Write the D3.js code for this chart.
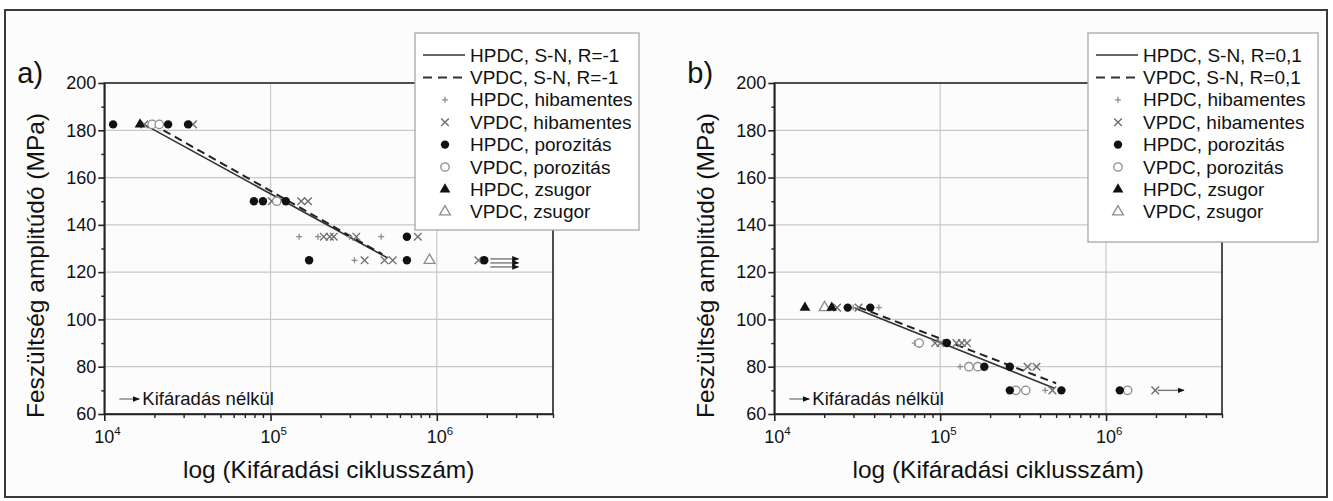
<!DOCTYPE html>
<html>
<head>
<meta charset="utf-8">
<script src="https://cdn.jsdelivr.net/npm/d3@7"></script>
<style>
body { margin: 0; background: #fff; }
svg text { font-family: "Liberation Sans", Arial, sans-serif; fill: #111; }
</style>
</head>
<body>
<div id="chart"></div>
<script>
// tick values
const yMajor = [60, 80, 100, 120, 140, 160, 180, 200];
const yMinor = [70, 90, 110, 130, 150, 170, 190];
const yGrid = [80, 100, 120, 140, 160, 180];
const xMajor = [1e4, 1e5, 1e6];
const xExp = ["4", "5", "6"];
const xMinor = [2e4, 3e4, 4e4, 5e4, 6e4, 7e4, 8e4, 9e4,
                2e5, 3e5, 4e5, 5e5, 6e5, 7e5, 8e5, 9e5,
                2e6, 3e6, 4e6, 5e6];

const legendA = ["HPDC, S-N, R=-1", "VPDC, S-N, R=-1", "HPDC, hibamentes", "VPDC, hibamentes",
                 "HPDC, porozitás", "VPDC, porozitás", "HPDC, zsugor", "VPDC, zsugor"];
const legendB = ["HPDC, S-N, R=0,1", "VPDC, S-N, R=0,1", "HPDC, hibamentes", "VPDC, hibamentes",
                 "HPDC, porozitás", "VPDC, porozitás", "HPDC, zsugor", "VPDC, zsugor"];
const legendKinds = ["solid", "dashed", "plus", "cross", "dot", "ring", "tri", "otri"];

// a) R=-1   [ciklusszám, MPa]
const aSnHpdc = [[17100, 182.7], [506000, 126]];
const aSnVpdc = [[19400, 182.7], [470000, 127.6]];
const aHpdcHiba = [[148600, 135], [193000, 135], [299000, 135], [463000, 135], [320000, 125]];
const aVpdcHiba = [[17400, 182.5], [34200, 182.5], [101800, 150], [153000, 150], [168000, 150],
                   [209000, 135], [227000, 135], [240000, 135], [328000, 135], [769000, 135],
                   [368000, 125], [485000, 125], [543000, 125], [1780000, 125]];
const aHpdcPor = [[11300, 182.5], [24200, 182.5], [31900, 182.5], [79400, 150], [90000, 150],
                  [123600, 150], [661000, 135], [170600, 125], [661000, 125], [1930000, 125]];
const aVpdcPor = [[19400, 182.5], [21400, 182.5], [109000, 150]];
const aHpdcZs = [[16400, 182.5]];
const aVpdcZs = [[904000, 125]];
const aRunout = [[2.1e6, 3.1e6, 125.6], [2.1e6, 3.1e6, 123.9], [2.1e6, 3.1e6, 122.2]];

// b) R=0,1
const bSnHpdc = [[30600, 104.7], [488000, 70.9]];
const bSnVpdc = [[32200, 105.2], [500000, 73]];
const bHpdcHiba = [[29900, 105], [42700, 105], [70300, 90], [131800, 80], [430000, 70]];
const bVpdcHiba = [[23900, 105], [32200, 105], [93100, 90], [100400, 90], [125300, 90],
                   [135000, 90], [145200, 90], [336600, 80], [380800, 80], [475000, 70], [1980000, 70]];
const bHpdcPor = [[27700, 105], [37900, 105], [109700, 90], [184500, 80], [263000, 80],
                  [263000, 70], [538000, 70], [1210000, 70]];
const bVpdcPor = [[74700, 90], [149000, 80], [168600, 80], [286000, 70], [328000, 70], [1350000, 70]];
const bHpdcZs = [[15300, 105], [22200, 105]];
const bVpdcZs = [[20100, 105]];
const bRunout = [[2.05e6, 2.95e6, 70]];

const W = 1333, H = 501;
const plotTop = 83, plotBottom = 414;

const svg = d3.select("#chart").append("svg")
    .attr("width", W).attr("height", H);

const defs = svg.append("defs");
defs.append("marker")
    .attr("id", "head")
    .attr("viewBox", "0 0 10 10")
    .attr("refX", 9).attr("refY", 5)
    .attr("markerWidth", 7).attr("markerHeight", 7)
    .attr("markerUnits", "userSpaceOnUse")
    .attr("orient", "auto")
    .append("path").attr("d", "M0,1L10,5L0,9Z").attr("fill", "#111");

// frame
svg.append("rect")
    .attr("x", 5).attr("y", 10).attr("width", 1322).attr("height", 487)
    .attr("fill", "#fcfcfc").attr("stroke", "#3a3a3a").attr("stroke-width", 2);

function drawMark(g, kind, x, y) {
    const m = g.append("g").attr("transform", `translate(${x},${y})`);
    if (kind === "plus") {
        m.append("path").attr("d", "M-3,0H3M0,-3V3")
            .attr("stroke", "#8c8c8c").attr("stroke-width", 1.3).attr("fill", "none");
    } else if (kind === "cross") {
        m.append("path").attr("d", "M-3.8,-3.8L3.8,3.8M-3.8,3.8L3.8,-3.8")
            .attr("stroke", "#6e6e6e").attr("stroke-width", 1.4).attr("fill", "none");
    } else if (kind === "dot") {
        m.append("circle").attr("r", 4.2).attr("fill", "#111");
    } else if (kind === "ring") {
        m.append("circle").attr("r", 4.2).attr("fill", "#fff")
            .attr("stroke", "#8c8c8c").attr("stroke-width", 1.3);
    } else if (kind === "tri") {
        m.append("path").attr("d", d3.symbol(d3.symbolTriangle, 50)).attr("fill", "#111");
    } else if (kind === "otri") {
        m.append("path").attr("d", d3.symbol(d3.symbolTriangle, 50)).attr("fill", "#fff")
            .attr("stroke", "#8c8c8c").attr("stroke-width", 1.3);
    }
}

function drawPanel(p) {
    const x = d3.scaleLog().domain([1e4, 5e6]).range([p.left, p.right]);
    const y = d3.scaleLinear().domain([60, 200]).range([plotBottom, plotTop]);
    const g = svg.append("g");

    // grid
    g.append("g").selectAll("line").data(yGrid).join("line")
        .attr("x1", p.left).attr("x2", p.right)
        .attr("y1", d => y(d)).attr("y2", d => y(d))
        .attr("stroke", "#c9c9c9").attr("stroke-width", 1.2);
    g.append("g").selectAll("line").data([1e5, 1e6]).join("line")
        .attr("x1", d => x(d)).attr("x2", d => x(d))
        .attr("y1", plotTop).attr("y2", plotBottom)
        .attr("stroke", "#c9c9c9").attr("stroke-width", 1.2);

    // box
    g.append("rect")
        .attr("x", p.left).attr("y", plotTop)
        .attr("width", p.right - p.left).attr("height", plotBottom - plotTop)
        .attr("fill", "none").attr("stroke", "#222").attr("stroke-width", 1.6);

    // S-N lines
    const line = d3.line().x(d => x(d[0])).y(d => y(d[1]));
    g.append("path").datum(p.snH).attr("d", line)
        .attr("fill", "none").attr("stroke", "#333").attr("stroke-width", 1.6);
    g.append("path").datum(p.snV).attr("d", line)
        .attr("fill", "none").attr("stroke", "#222").attr("stroke-width", 2)
        .attr("stroke-dasharray", "8,5");

    // run-outs
    g.append("g").selectAll("line").data(p.runout).join("line")
        .attr("x1", d => x(d[0])).attr("x2", d => x(d[1]))
        .attr("y1", d => y(d[2])).attr("y2", d => y(d[2]))
        .attr("stroke", "#777").attr("stroke-width", 1.4)
        .attr("marker-end", "url(#head)");

    // points
    const pts = g.append("g");
    [["plus", p.hHiba], ["cross", p.vHiba], ["ring", p.vPor], ["otri", p.vZs],
     ["dot", p.hPor], ["tri", p.hZs]].forEach(([kind, arr]) => {
        arr.forEach(d => drawMark(pts, kind, x(d[0]), y(d[1])));
    });

    // y axis
    g.append("g").attr("transform", `translate(${p.left},0)`)
        .call(d3.axisLeft(y).tickValues(yMinor).tickSize(3).tickFormat(""))
        .call(a => a.select(".domain").remove())
        .call(a => a.selectAll("line").attr("stroke", "#222").attr("stroke-width", 1.4));
    g.append("g").attr("transform", `translate(${p.left},0)`)
        .call(d3.axisLeft(y).tickValues(yMajor).tickSize(6).tickSizeOuter(0).tickPadding(2))
        .call(a => a.select(".domain").attr("stroke", "#222").attr("stroke-width", 1.6))
        .call(a => a.selectAll("line").attr("stroke", "#222").attr("stroke-width", 1.6))
        .call(a => a.selectAll("text").attr("font-size", 18).attr("fill", "#111")
            .attr("font-family", "Liberation Sans, Arial, sans-serif"));

    // x axis
    g.append("g").attr("transform", `translate(0,${plotBottom})`)
        .call(d3.axisBottom(x).tickValues(xMinor).tickSize(4).tickFormat(""))
        .call(a => a.select(".domain").remove())
        .call(a => a.selectAll("line").attr("stroke", "#222").attr("stroke-width", 1.4));
    g.append("g").attr("transform", `translate(0,${plotBottom})`)
        .call(d3.axisBottom(x).tickValues(xMajor).tickSize(7).tickSizeOuter(0).tickFormat(""))
        .call(a => a.select(".domain").attr("stroke", "#222").attr("stroke-width", 1.6))
        .call(a => a.selectAll("line").attr("stroke", "#222").attr("stroke-width", 1.6));
    const xl = g.append("g").selectAll("text").data(xMajor).join("text")
        .attr("x", d => x(d) - 10).attr("y", plotBottom + 29)
        .attr("font-size", 18);
    xl.append("tspan").text("10");
    xl.append("tspan").text((d, i) => xExp[i]).attr("font-size", 11.5).attr("dy", -8);

    // titles
    g.append("text")
        .attr("transform", `translate(${p.left - 60},${(plotTop + plotBottom) / 2 + 17}) rotate(-90)`)
        .attr("text-anchor", "middle").attr("font-size", 24.5)
        .text("Feszültség amplitúdó (MPa)");
    g.append("text")
        .attr("x", (p.left + p.right) / 2).attr("y", 478)
        .attr("text-anchor", "middle").attr("font-size", 24.5)
        .text("log (Kifáradási ciklusszám)");
    g.append("text")
        .attr("x", p.left - 87).attr("y", 83)
        .attr("font-size", 29)
        .text(p.tag);

    // Kifáradás nélkül note
    g.append("line")
        .attr("x1", p.left + 15).attr("x2", p.left + 35)
        .attr("y1", plotBottom - 15).attr("y2", plotBottom - 15)
        .attr("stroke", "#777").attr("stroke-width", 1.3)
        .attr("marker-end", "url(#head)");
    g.append("text")
        .attr("x", p.left + 38).attr("y", plotBottom - 15).attr("dy", "0.35em")
        .attr("font-size", 18.5)
        .text("Kifáradás nélkül");

    // legend
    const lg = g.append("g");
    lg.append("rect")
        .attr("x", p.lx).attr("y", 33).attr("width", p.lw).attr("height", p.lh)
        .attr("fill", "#fff").attr("stroke", "#a8a8a8").attr("stroke-width", 1.3);
    const rows = lg.selectAll("g").data(p.legend).join("g")
        .attr("transform", (d, i) => `translate(${p.lx},${55 + i * 22.4})`);
    rows.append("text")
        .attr("x", 55).attr("dy", "0.35em").attr("font-size", 19)
        .text(d => d);
    rows.each(function (d, i) {
        const r = d3.select(this);
        const kind = legendKinds[i];
        if (kind === "solid" || kind === "dashed") {
            r.append("line").attr("x1", 8).attr("x2", 50).attr("y1", 0).attr("y2", 0)
                .attr("stroke", "#333").attr("stroke-width", kind === "solid" ? 1.6 : 2)
                .attr("stroke-dasharray", kind === "dashed" ? "9,6" : null);
        } else {
            drawMark(r, kind, 30, 0);
        }
    });
}

drawPanel({
    left: 104.3, right: 553, tag: "a)", legend: legendA,
    lx: 415, lw: 224, lh: 197,
    snH: aSnHpdc, snV: aSnVpdc, hHiba: aHpdcHiba, vHiba: aVpdcHiba,
    hPor: aHpdcPor, vPor: aVpdcPor, hZs: aHpdcZs, vZs: aVpdcZs, runout: aRunout
});
drawPanel({
    left: 774.3, right: 1222, tag: "b)", legend: legendB,
    lx: 1088, lw: 230, lh: 209,
    snH: bSnHpdc, snV: bSnVpdc, hHiba: bHpdcHiba, vHiba: bVpdcHiba,
    hPor: bHpdcPor, vPor: bVpdcPor, hZs: bHpdcZs, vZs: bVpdcZs, runout: bRunout
});
</script>
</body>
</html>
